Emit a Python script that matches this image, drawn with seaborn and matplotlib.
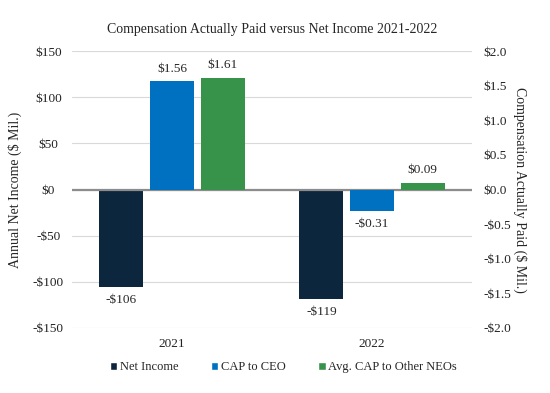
import pandas as pd
import seaborn as sns
import matplotlib.pyplot as plt
from matplotlib.patches import Patch

# -------- Data -------- #
years = ["2021", "2022"]
series = ["Net Income", "CAP to CEO", "Avg. CAP to Other NEOs"]
net_income = [-106, -119]
cap_ceo = [1.56, -0.31]
cap_neos = [1.61, 0.09]

colors = ["#0C263D", "#0070C0", "#37924A"]
palette = dict(zip(series, colors))

df = pd.DataFrame({
    "year": years * 3,
    "series": [series[0]] * 2 + [series[1]] * 2 + [series[2]] * 2,
    "value": net_income + cap_ceo + cap_neos,
})

sns.set_style("white")
plt.rcParams["font.family"] = ["Liberation Serif", "DejaVu Serif"]

fig = plt.figure(figsize=(5.5, 3.93), dpi=100)
ax = fig.add_axes([0.1309, 0.1654, 0.7273, 0.7048])
ax2 = ax.twinx()

# same dodge layout on both axes; each axis keeps only its own series
for a in (ax, ax2):
    sns.barplot(data=df, x="year", y="value", hue="series", order=years,
                hue_order=series, palette=palette, width=0.76, gap=0.13,
                saturation=1, linewidth=0, legend=False, ax=a, errorbar=None)

left_cont = [ax.containers[0]]
right_cont = list(ax2.containers[1:])
for cont in ax.containers[1:]:
    for p in cont:
        p.set_visible(False)
for p in ax2.containers[0]:
    p.set_visible(False)

ax.set_ylim(-150, 150)
lticks = list(range(-150, 151, 50))
ax.set_yticks(lticks)
ax.set_yticklabels([f"-${abs(v)}" if v < 0 else f"${v}" for v in lticks])
ax2.set_ylim(-2.0, 2.0)
rticks = [-2.0, -1.5, -1.0, -0.5, 0.0, 0.5, 1.0, 1.5, 2.0]
ax2.set_yticks(rticks)
ax2.set_yticklabels([f"-${abs(v):.1f}" if v < 0 else f"${v:.1f}" for v in rticks])
ax.set_xlim(-0.5, 1.5)

ax.grid(axis="y", color="#D9D9D9", lw=0.8)
ax.set_axisbelow(True)
ax.axhline(0, color="#8C8C8C", lw=1.6, zorder=5)
for a in (ax, ax2):
    for s in a.spines.values():
        s.set_visible(False)
    a.tick_params(length=0, labelsize=9.5, colors="#222222")
ax.tick_params(axis="y", pad=17)
for lab in ax.get_yticklabels():
    lab.set_ha("center")
ax2.tick_params(axis="y", pad=8)
ax.tick_params(axis="x", pad=7)

ax.set_xlabel("")
ax.set_ylabel("Annual Net Income ($ Mil.)", fontsize=10)
ax2.set_ylabel("Compensation Actually Paid ($ Mil.)", fontsize=10, rotation=270, va="center")
ax.yaxis.set_label_coords(-0.125, 0.5)
ax2.yaxis.set_label_coords(1.12, 0.5)
ax.set_title("Compensation Actually Paid versus Net Income 2021-2022", fontsize=10, pad=13)


def money(v, dec):
    s = f"${abs(v):,.{dec}f}"
    return "-" + s if v < 0 else s


for cont in left_cont:
    ax.bar_label(cont, labels=[money(v, 0) for v in cont.datavalues], padding=5, fontsize=9.5)
for cont in right_cont:
    ax2.bar_label(cont, labels=[money(v, 2) for v in cont.datavalues], padding=5, fontsize=9.5)

handles = [Patch(facecolor=palette[s], label=s) for s in series]
fig.legend(handles=handles, loc="center", bbox_to_anchor=(0.515, 0.066), ncol=3,
           frameon=False, handlelength=0.6, handleheight=0.6, handletextpad=0.2,
           columnspacing=2.6, fontsize=9)

fig.savefig("out.png", dpi=100)
